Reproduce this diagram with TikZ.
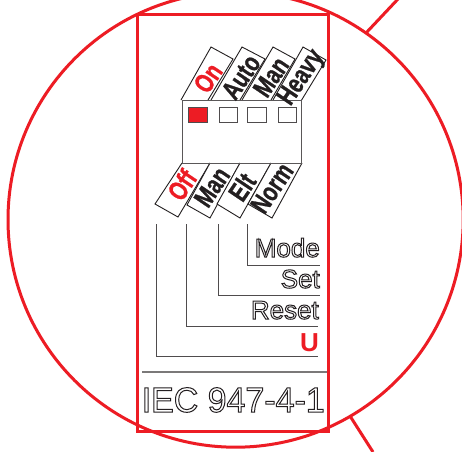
\documentclass[tikz,border=0pt]{standalone}
\usepackage{fontspec}
\setmainfont{Liberation Sans}
\newfontfamily\flapfontb{Liberation Sans Bold}[FakeStretch=0.76,FakeBold=0.8]
\newfontfamily\iecfont{Liberation Sans}[FakeStretch=0.97]
\definecolor{redline}{RGB}{237,28,36}
\definecolor{ink}{RGB}{35,31,32}
\newcommand{\outl}[1]{\special{pdf:code q 1 Tr 1 w 0.14 0.12 0.13 RG}#1\special{pdf:code Q}}
\tikzset{
  redstroke/.style={draw=redline,line width=3pt},
  leader/.style={draw=ink!80,line width=1pt},
  flap/.style={draw=ink,line width=0.9pt,fill=white},
  flaptext/.style={font=\fontsize{27}{27}\flapfontb,rotate=56,inner sep=0pt,anchor=center,text=ink},
  flapred/.style={flaptext,text=redline},
  led/.style={draw=ink!80,line width=1pt,fill=white},
  label/.style={font=\fontsize{26}{26}\selectfont,inner sep=0pt,anchor=base east},
}
\begin{document}
\begin{tikzpicture}[x=1pt,y=-1pt]
\useasboundingbox (0,0) rectangle (462,451);
\clip (0,0) rectangle (462,451);
\fill[white] (0,0) rectangle (462,451);
% circle, pointer lines and frame
\draw[redstroke] (235.6,219.6) circle (227.6pt);
\draw[redstroke] (366,33) -- (398,-1);
\draw[redstroke] (350,416) -- (373,452);
\draw[redstroke] (137,14) rectangle (328,431);
% top flaps
\draw[flap] (181,100) -- (211,47) -- (233,59) -- (208,100);
\draw[flap] (211,100) -- (242,47) -- (265,59) -- (240,100);
\draw[flap] (242,100) -- (273,47) -- (295,59) -- (271,100);
\draw[flap] (273,100) -- (303,47) -- (326,60) -- (301,101);
% bottom flaps
\draw[flap] (210,163) -- (178,217) -- (155,204) -- (182,163);
\draw[flap] (240,163) -- (210,218) -- (187,205) -- (210,163);
\draw[flap] (271,163) -- (240,218) -- (217,204) -- (240,163);
\draw[flap] (302,163) -- (272,218) -- (248,204) -- (271,163);
% switch body
\draw[draw=ink!75,line width=1pt] (182,100) rectangle (301,163);
\draw[led,fill=redline] (188,107) rectangle (207,122);
\draw[led] (219,107) rectangle (237,122);
\draw[led] (247,107) rectangle (266,122);
\draw[led] (278,107) rectangle (296,122);
% flap labels
\node[flapred] (on) at (208,78) {On};
\node[flaptext] (auto) at (241,77) {Auto};
\node[flaptext] (mant) at (271,77) {Man};
\node[flaptext] (heavy) at (302,78) {Heavy};
\node[flapred] (off) at (182,185) {Off};
\node[flaptext] (manb) at (212,187) {Man};
\node[flaptext] (elt) at (242,187) {Elt};
\node[flaptext] (norm) at (272,188) {Norm};
% leaders
\coordinate (a1) at (156,224); \coordinate (a2) at (156,356); \coordinate (a3) at (318,356);
\coordinate (b1) at (186,224); \coordinate (b2) at (186,326); \coordinate (b3) at (318,326);
\coordinate (c1) at (218,224); \coordinate (c2) at (218,295); \coordinate (c3) at (320,295);
\coordinate (d1) at (247,224); \coordinate (d2) at (247,265); \coordinate (d3) at (320,265);
\draw[leader] (a1) -- (a2) -- (a3);
\draw[leader] (b1) -- (b2) -- (b3);
\draw[leader] (c1) -- (c2) -- (c3);
\draw[leader] (d1) -- (d2) -- (d3);
\coordinate (s1) at (142,372); \coordinate (s2) at (327,372);
\draw[draw=ink!60,line width=1.1pt] (s1) -- (s2);
% labels
\node[label] (mode) at (320,257) {\outl{Mode}};
\node[label] (set) at (320,288) {\outl{Set}};
\node[label] (reset) at (319,319) {\outl{Reset}};
\node[label,font=\fontsize{26}{26}\bfseries\selectfont,text=redline] (u) at (319,351) {U};
\node[inner sep=0pt,anchor=base west,font=\fontsize{35}{35}\iecfont] (iec) at (141.5,412) {\outl{IEC 947-4-1}};
\end{tikzpicture}
\end{document}
